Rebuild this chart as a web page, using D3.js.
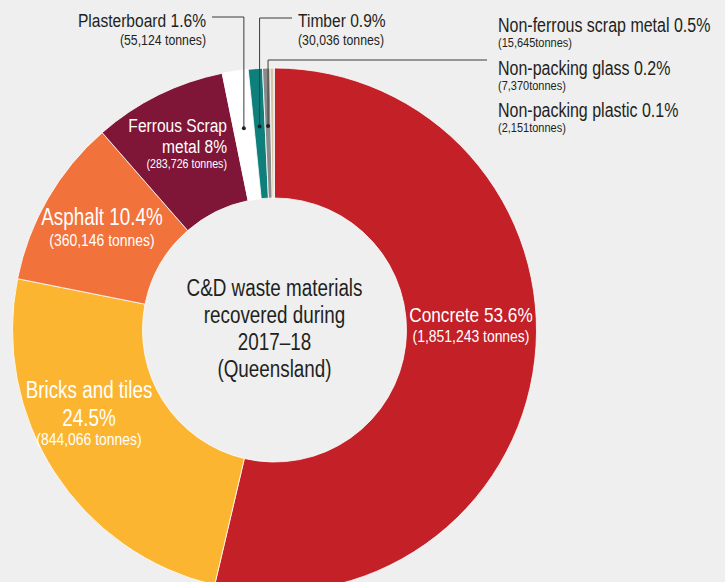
<!DOCTYPE html>
<html>
<head>
<meta charset="utf-8">
<script src="https://cdn.jsdelivr.net/npm/d3@7"></script>
<style>
  html, body { margin: 0; padding: 0; background: #efefef; }
  svg { display: block; font-family: 'Liberation Sans', Arial, sans-serif; }
</style>
</head>
<body>
<svg id="chart" width="725" height="582"></svg>
<script>
// Construction & demolition materials recovered, Queensland 2017–18
const materials = [
  "Concrete", "Bricks and tiles", "Asphalt", "Ferrous Scrap metal", "Plasterboard",
  "Timber", "Non-ferrous scrap metal", "Non-packing glass", "Non-packing plastic"
];
const tonnes = [1851243, 844066, 360146, 283726, 55124, 30036, 15645, 7370, 2151];
const shares = [53.6, 24.5, 10.4, 8, 1.6, 0.9, 0.5, 0.2, 0.1];
const sliceColours = [
  "#c32027", "#fbb531", "#f1723a", "#7f1537", "#ffffff",
  "#0f7f7b", "#8a8a8a", "#d6c6a6", "#2a2526"
];
const centreTitle = ["C&D waste materials", "recovered during", "2017–18", "(Queensland)"];

const width = 725, height = 582;
const cx = 274.5, cy = 330, outerR = 262, innerR = 132;
const ink = "#231f20";
const narrow = 0.82; // horizontal squeeze giving a condensed face

const svg = d3.select("#chart");
svg.append("rect").attr("width", width).attr("height", height).attr("fill", "#efefef");

const records = materials.map((name, i) => ({
  name, tonnes: tonnes[i], share: shares[i], colour: sliceColours[i]
}));

const pie = d3.pie().sort(null).value(d => d.tonnes);
const arcs = pie(records);
const arc = d3.arc().innerRadius(innerR).outerRadius(outerR);

const g = svg.append("g").attr("transform", `translate(${cx},${cy})`);

g.selectAll("path.slice")
  .data(arcs)
  .join("path")
  .attr("class", "slice")
  .attr("d", arc)
  .attr("fill", d => d.data.colour)
  .attr("stroke", "#ffffff")
  .attr("stroke-width", 0.8);

// A text block squeezed horizontally around its anchor x
function condensedText(x, anchor, colour) {
  return svg.append("g")
    .attr("transform", `translate(${x},0) scale(${narrow},1)`)
    .append("text")
    .attr("text-anchor", anchor)
    .attr("fill", colour);
}

// Centre caption
const centre = condensedText(cx, "middle", ink).attr("font-size", 23);
centre.selectAll("tspan")
  .data(centreTitle)
  .join("tspan")
  .attr("x", 0)
  .attr("y", (d, i) => cy - 34 + i * 27)
  .text(d => d);

// Leader lines for the thin slices near the top
const dotArc = d3.arc().innerRadius(204).outerRadius(204);
const leaders = [
  { index: 4, elbowY: 17, endX: 212 },
  { index: 5, elbowY: 18, endX: 292 },
  { index: 6, elbowY: 60, endX: 487 }
];
leaders.forEach(l => {
  const [dx, dy] = dotArc.centroid(arcs[l.index]);
  const px = cx + dx, py = cy + dy;
  svg.append("path")
    .attr("d", `M${px},${py}V${l.elbowY}H${l.endX}`)
    .attr("fill", "none")
    .attr("stroke", "#3a3a3a")
    .attr("stroke-width", 1);
  svg.append("circle")
    .attr("cx", px).attr("cy", py).attr("r", 2)
    .attr("fill", ink);
});

// Slice labels
const fmt = d3.format(",");
const labelLayout = [
  { index: 0, x: 471, y: 322, anchor: "middle", colour: "#fff", size: 21, subSize: 17, subGap: 20 },
  { index: 1, x: 89, y: 398, anchor: "middle", colour: "#fff", size: 23, subSize: 17, subGap: 19, breakAt: 3, lineGap: 28 },
  { index: 2, x: 102, y: 225, anchor: "middle", colour: "#fff", size: 23, subSize: 17, subGap: 21 },
  { index: 3, x: 227, y: 132, anchor: "end", colour: "#fff", size: 19, subSize: 13, subGap: 15, breakAt: 2, lineGap: 21 },
  { index: 4, x: 206, y: 27, anchor: "end", colour: ink, size: 19, subSize: 15, subGap: 18 },
  { index: 5, x: 298, y: 27, anchor: "start", colour: ink, size: 19, subSize: 15, subGap: 18 },
  { index: 6, x: 498, y: 32, anchor: "start", colour: ink, size: 19.5, subSize: 13.4, subGap: 15, tight: true },
  { index: 7, x: 498, y: 75, anchor: "start", colour: ink, size: 19.5, subSize: 13.4, subGap: 15, tight: true },
  { index: 8, x: 498, y: 117, anchor: "start", colour: ink, size: 19.5, subSize: 13.4, subGap: 15, tight: true }
];

labelLayout.forEach(L => {
  const d = records[L.index];
  const words = `${d.name} ${d.share}%`.split(" ");
  const lines = L.breakAt ? [words.slice(0, L.breakAt).join(" "), words.slice(L.breakAt).join(" ")] : [words.join(" ")];
  const t = condensedText(L.x, L.anchor, L.colour);
  lines.forEach((line, i) => {
    t.append("tspan")
      .attr("x", 0)
      .attr("y", L.y + i * (L.lineGap || 0))
      .attr("font-size", L.size)
      .text(line);
  });
  const lastY = L.y + (lines.length - 1) * (L.lineGap || 0);
  t.append("tspan")
    .attr("x", 0)
    .attr("y", lastY + L.subGap)
    .attr("font-size", L.subSize)
    .text(`(${fmt(d.tonnes)}${L.tight ? "" : " "}tonnes)`);
});
</script>
</body>
</html>
